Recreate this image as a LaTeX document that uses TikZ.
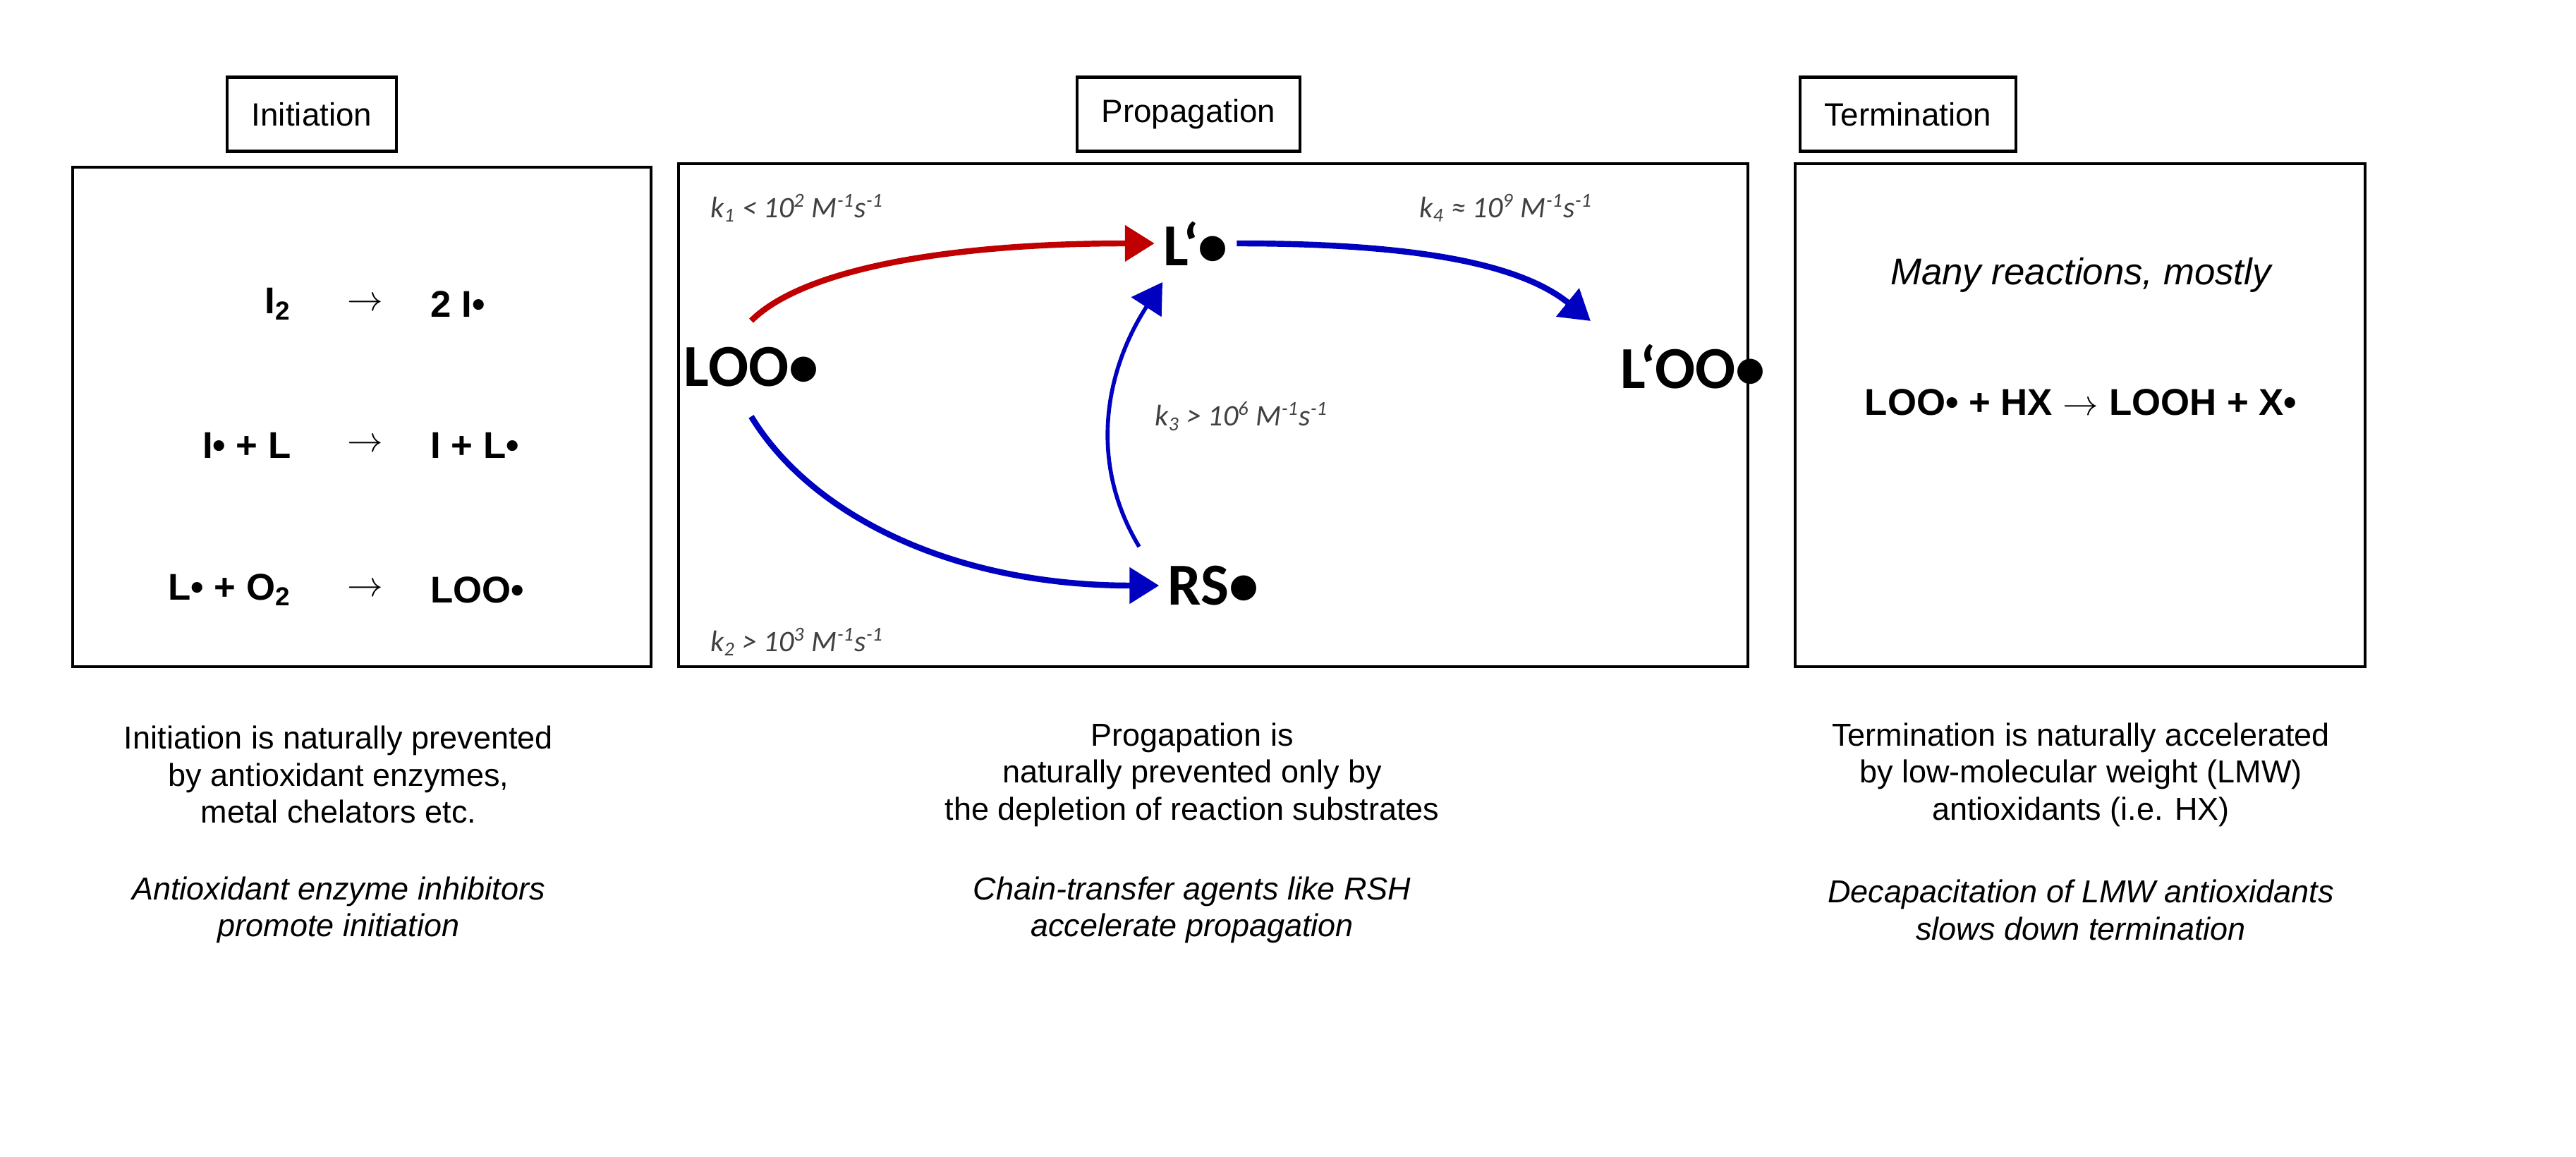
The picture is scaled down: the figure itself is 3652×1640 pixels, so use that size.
\documentclass[tikz,border=0pt]{standalone}
\usepackage{fontspec}
\setmainfont{Liberation Sans}
\newfontfamily\carl{Carlito}
\usetikzlibrary{arrows.meta}
\definecolor{myred}{RGB}{192,0,0}
\definecolor{myblue}{RGB}{0,0,192}
\definecolor{kgray}{RGB}{64,64,64}
\begin{document}
\begin{tikzpicture}[x=0.01cm,y=-0.01cm,
  box/.style={draw,line width=1.2pt},
  title/.style={draw,line width=1.2pt,font=\fontsize{13}{15}\selectfont,minimum height=1.05cm,inner xsep=0.35cm},
  chem/.style={font=\fontsize{15}{18}\selectfont\bfseries},
  big/.style={font=\carl\fontsize{24}{28}\selectfont\bfseries},
  kl/.style={font=\carl\fontsize{12}{14}\selectfont\itshape,text=kgray},
  para/.style={align=center,font=\fontsize{12.8}{14.9}\selectfont},
  arr/.style={line width=2.4pt,-{Triangle[length=0.42cm,width=0.5cm]}}]
\useasboundingbox (0,0) rectangle (3652,1640);
\node[title] (t1) at (442,162) {Initiation};
\node[title] (t2) at (1685,162) {Propagation};
\node[title] (t3) at (2705,162) {Termination};
\draw[box] (103,237) rectangle (923,945);
\draw[box] (962,232) rectangle (2478,945);
\draw[box] (2545,232) rectangle (3353,945);
% initiation
\node[chem,anchor=east] (a1) at (425,431) {I\textsubscript{2}};
\node[chem,anchor=east] (a2) at (425,631) {I• + L};
\node[chem,anchor=east] (a3) at (425,836) {L• + O\textsubscript{2}};
\node[chem] (r1) at (518,431) {$\rightarrow$};
\node[chem] (r2) at (518,631) {$\rightarrow$};
\node[chem] (r3) at (518,836) {$\rightarrow$};
\node[chem,anchor=west] (b1) at (598,431) {2 I•};
\node[chem,anchor=west] (b2) at (598,631) {I + L•};
\node[chem,anchor=west] (b3) at (598,836) {LOO•};
% propagation
\node[big] (loo) at (1065,520) {LOO•};
\node[big] (lp) at (1695,345) {L‘•};
\node[big] (lpoo) at (2400,520) {L‘OO•};
\node[big] (rs) at (1720,830) {RS•};
\draw[arr,myred] (loo.north) ++(0,-25) coordinate (s1) .. controls (1140,380) and (1350,345) .. (lp.west);
\draw[arr,myblue] (lp.east) .. controls (1990,345) and (2150,370) .. (2255,455);
\draw[arr,myblue] (loo.south) ++(0,30) coordinate (s2) .. controls (1150,730) and (1350,830) .. (rs.west);
\draw[arr,myblue,line width=1.6pt] (1615,775) .. controls (1540,650) and (1570,520) .. (1648,400);
\node[kl] (k1) at (1130,295) {k\textsubscript{1} < 10\textsuperscript{2} M\textsuperscript{-1}s\textsuperscript{-1}};
\node[kl] (k4) at (2135,295) {k\textsubscript{4} ≈ 10\textsuperscript{9} M\textsuperscript{-1}s\textsuperscript{-1}};
\node[kl] (k3) at (1760,590) {k\textsubscript{3} > 10\textsuperscript{6} M\textsuperscript{-1}s\textsuperscript{-1}};
\node[kl] (k2) at (1130,910) {k\textsubscript{2} > 10\textsuperscript{3} M\textsuperscript{-1}s\textsuperscript{-1}};
% termination
\node[font=\fontsize{15}{18}\selectfont\itshape] (m) at (2950,390) {Many reactions, mostly};
\node[chem] (tr) at (2950,570) {LOO• + HX $\rightarrow$ LOOH + X•};
% bottom
\node[para] (p1) at (480,1098) {Initiation is naturally prevented\\by antioxidant enzymes,\\metal chelators etc.};
\node[para,font=\fontsize{12.8}{14.9}\selectfont\itshape] (q1) at (480,1290) {Antioxidant enzyme inhibitors\\promote initiation};
\node[para] (p2) at (1690,1098) {Progapation is\\naturally prevented only by\\the depletion of reaction substrates};
\node[para,font=\fontsize{12.8}{14.9}\selectfont\itshape] (q2) at (1690,1290) {Chain-transfer agents like RSH\\accelerate propagation};
\node[para] (p3) at (2950,1098) {Termination is naturally accelerated\\by low-molecular weight (LMW)\\antioxidants (i.e. HX)};
\node[para,font=\fontsize{12.8}{14.9}\selectfont\itshape] (q3) at (2950,1290) {Decapacitation of LMW antioxidants\\slows down termination};
\end{tikzpicture}
\end{document}
